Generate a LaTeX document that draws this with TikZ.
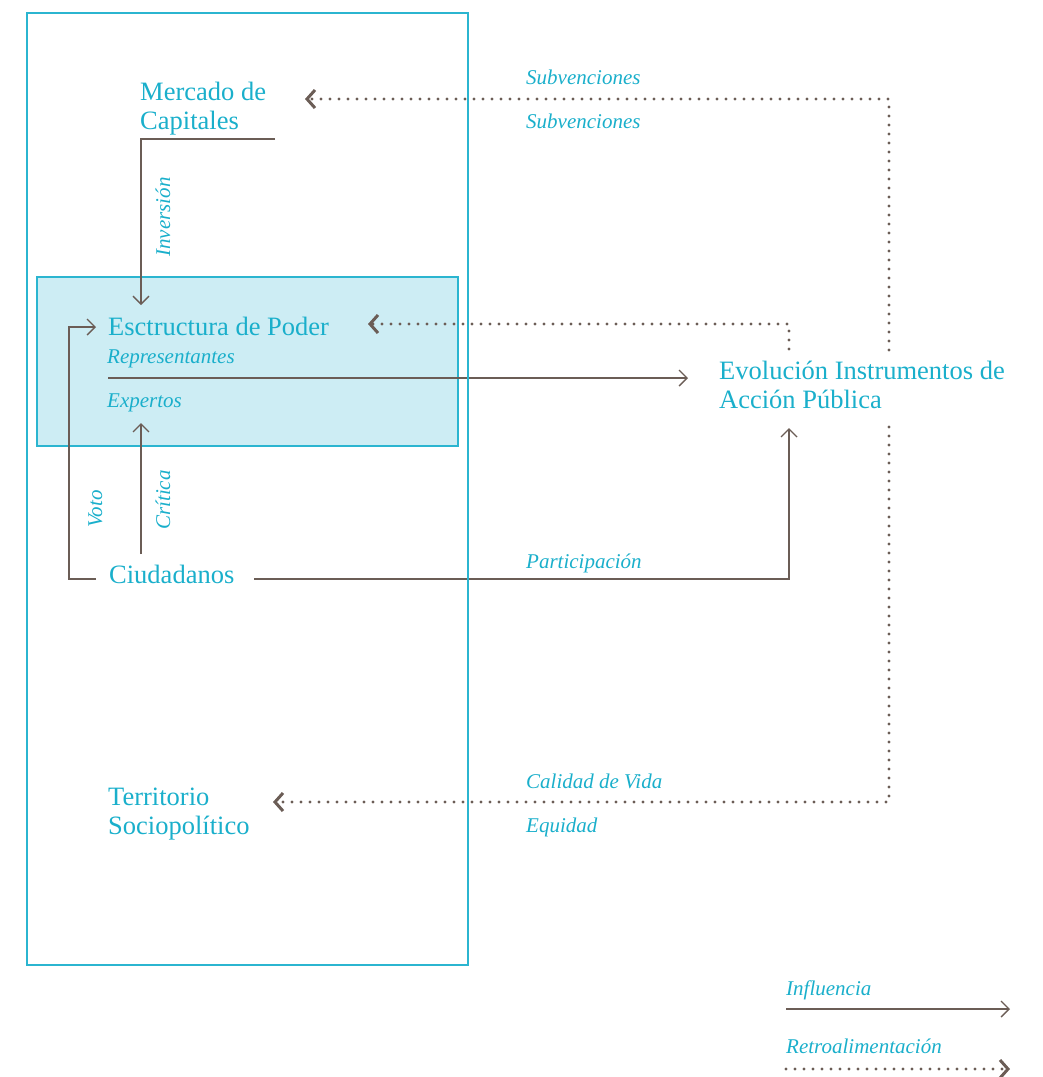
\documentclass[tikz,border=0pt]{standalone}
\usepackage{fontspec}
\setmainfont{Liberation Serif}
\usetikzlibrary{arrows.meta}
\definecolor{tc}{HTML}{1AAFCB}
\definecolor{ln}{HTML}{6B5D56}
\definecolor{bx}{HTML}{2BB5D0}
\definecolor{fl}{HTML}{CDEDF4}
\begin{document}
\begin{tikzpicture}[x=1pt,y=-1pt,
 lbl/.style={text=tc,font=\fontsize{26.5}{29}\selectfont,inner sep=0pt,align=left,anchor=base west},
 itl/.style={text=tc,font=\fontsize{21}{25}\selectfont\itshape,inner sep=0pt,anchor=base west},
 rot/.style={text=tc,font=\fontsize{21}{25}\selectfont\itshape,inner sep=0pt,rotate=90,anchor=base},
 infl/.style={draw=ln,line width=1.4pt,-{Straight Barb[length=8pt,width=16pt,line width=1.4pt]}},
 retro/.style={draw=ln,line width=3.2pt,line cap=round,dash pattern=on 0pt off 9pt,-{Straight Barb[length=8pt,width=18pt,line width=3pt]}},
 frame/.style={draw=bx,line width=1.4pt},
]
\useasboundingbox (0,0) rectangle (1043,1077);
\draw[frame,fill=fl] (37,277) rectangle (458,446);
% nodes (multi-line nodes: base = last line)
\node[lbl] (mercado) at (140,129) {Mercado de\\Capitales};
\node[lbl] (estructura) at (108,335) {Esctructura de Poder};
\node[itl] (repr) at (107,363) {Representantes};
\node[itl] (expertos) at (107,407) {Expertos};
\node[lbl] (ciudadanos) at (109,583) {Ciudadanos};
\node[lbl] (evolucion) at (719,408) {Evolución Instrumentos de\\Acción Pública};
\node[lbl] (territorio) at (108,834) {Territorio\\Sociopolítico};
% labels
\node[rot] (inversion) at (170,217) {Inversión};
\node[rot] (voto) at (102,509) {Voto};
\node[rot] (critica) at (170,500) {Crítica};
\node[itl] (subv1) at (526,84) {Subvenciones};
\node[itl] (subv2) at (526,128) {Subvenciones};
\node[itl] (particip) at (526,568) {Participación};
\node[itl] (calidad) at (526,788) {Calidad de Vida};
\node[itl] (equidad) at (526,832) {Equidad};
\node[itl] (linfl) at (786,995) {Influencia};
\node[itl] (lretro) at (786,1053) {Retroalimentación};
% coordinates
\coordinate (mS) at (275,139);
\coordinate (mC) at (141,139);
\coordinate (eT) at (141,305);
\coordinate (cV) at (96,579);
\coordinate (vB) at (69,579);
\coordinate (vT) at (69,327);
\coordinate (eL) at (96,327);
\coordinate (cT) at (141,554);
\coordinate (eB) at (141,423);
\coordinate (rS) at (108,378);
\coordinate (evL) at (688,378);
\coordinate (cR) at (254,579);
\coordinate (pC) at (789,579);
\coordinate (evB) at (789,428);
\coordinate (f1S) at (789,349);
\coordinate (f1C) at (789,324);
\coordinate (eR) at (368,324);
\coordinate (f2S) at (889,350);
\coordinate (f2C) at (889,99);
\coordinate (mR) at (305,99);
\coordinate (f3S) at (889,427);
\coordinate (f3C) at (889,802);
\coordinate (tR) at (273,802);
\coordinate (l1a) at (786,1009);
\coordinate (l1b) at (1010,1009);
\coordinate (l2a) at (786,1069);
\coordinate (l2b) at (1010,1069);
% connectors
\draw[infl] (mS) -- (mC) -- (eT);
\draw[infl] (cV) -- (vB) -- (vT) -- (eL);
\draw[infl] (cT) -- (eB);
\draw[infl] (rS) -- (evL);
\draw[infl] (cR) -- (pC) -- (evB);
\draw[retro] (f1S) -- (f1C) -- (eR);
\draw[retro] (f2S) -- (f2C) -- (mR);
\draw[retro] (f3S) -- (f3C) -- (tR);
\draw[infl] (l1a) -- (l1b);
\draw[retro] (l2a) -- (l2b);
\draw[frame] (27,13) rectangle (468,965);
\end{tikzpicture}
\end{document}
